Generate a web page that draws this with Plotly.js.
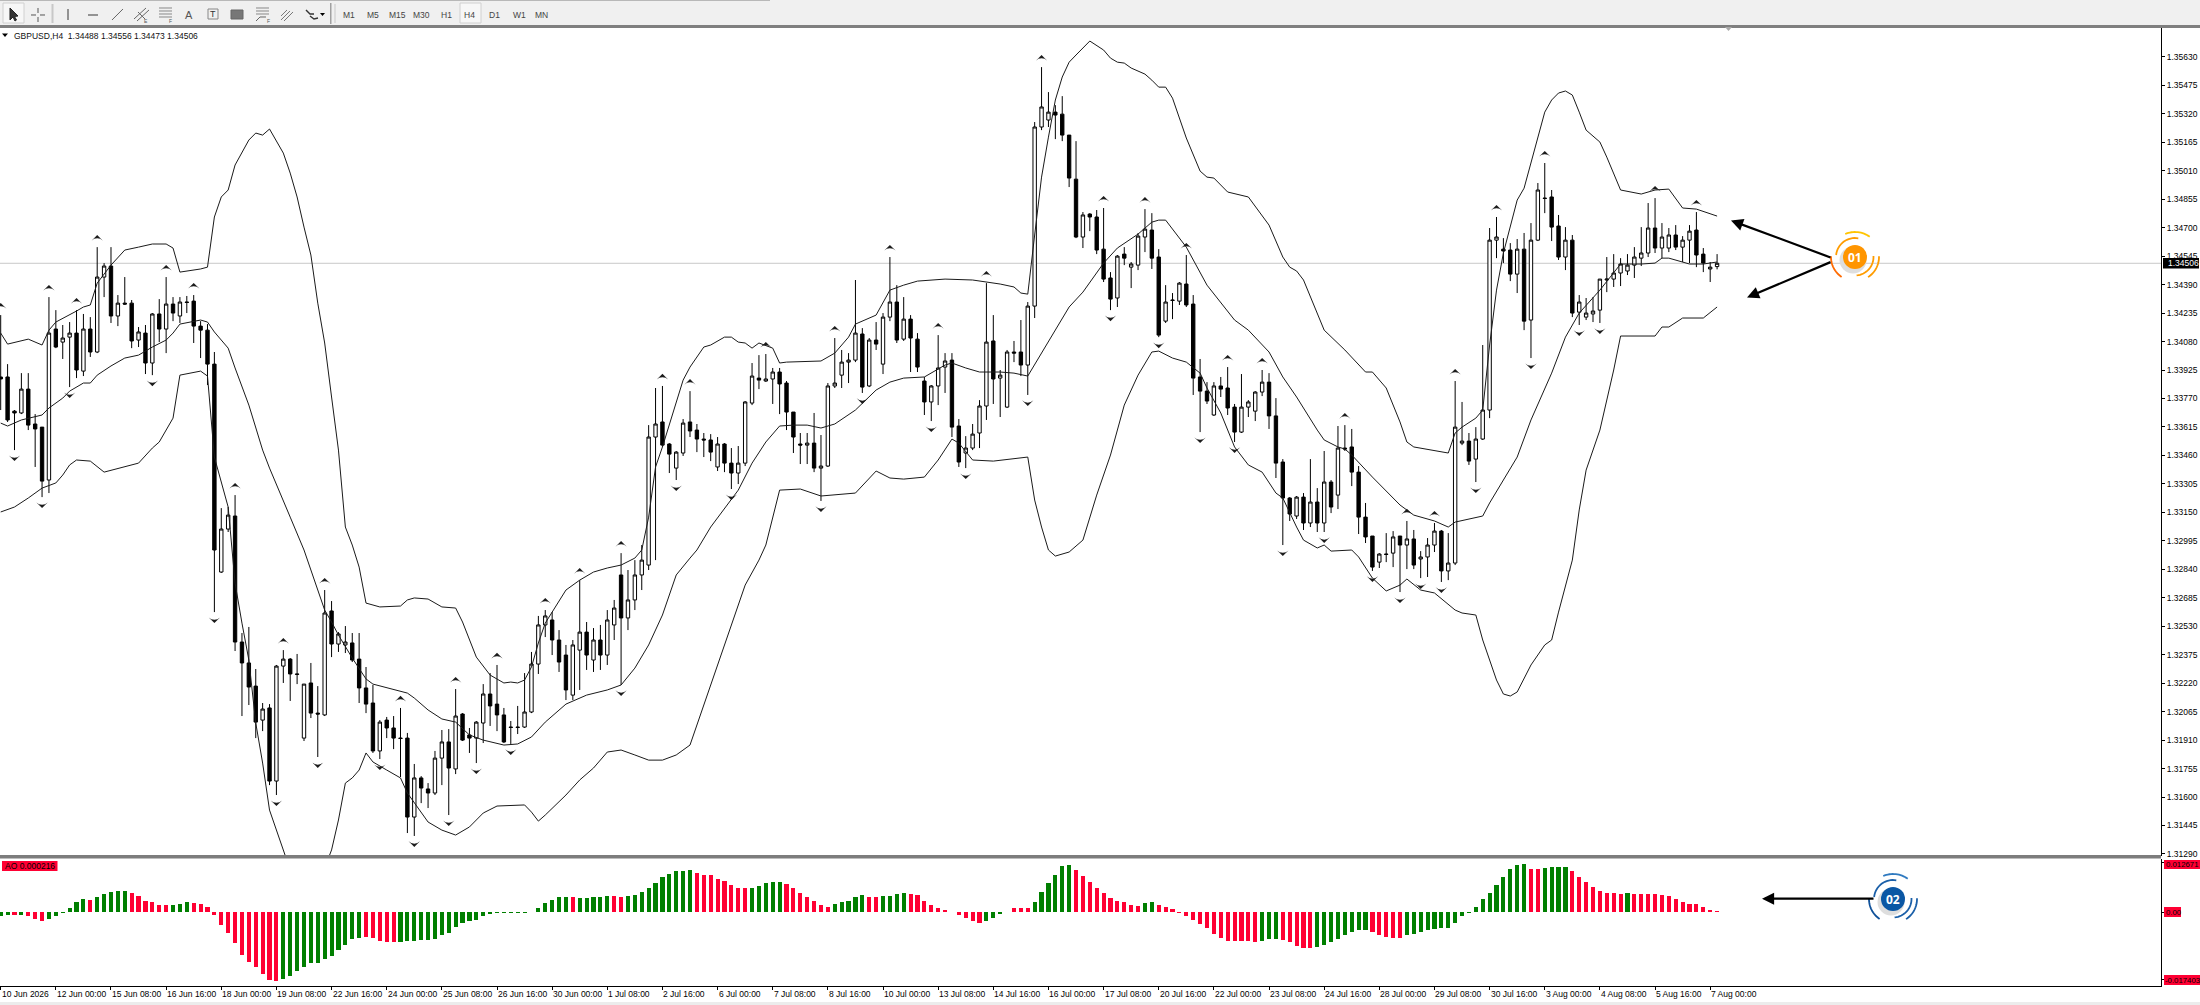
<!DOCTYPE html>
<html><head><meta charset="utf-8"><style>html,body{margin:0;padding:0;background:#fff}#c{width:2200px;height:1005px}</style>
<script src="https://cdn.plot.ly/plotly-3.0.1.min.js"></script></head><body><div id="c"></div><script>
const highs=[1.34224,1.33957,1.33707,1.33908,1.33908,1.33685,1.33614,1.34322,1.34251,1.34170,
1.34186,1.34251,1.34230,1.34213,1.34594,1.34507,1.34594,1.34333,1.34431,1.34306,
1.34159,1.34170,1.34235,1.34311,1.34431,1.34322,1.34322,1.34328,1.34333,1.34191,
1.34175,1.34023,1.33173,1.33179,1.33244,1.32493,1.32526,1.32297,1.32112,1.32106,
1.32319,1.32400,1.32357,1.32379,1.32215,1.32330,1.32204,1.32727,1.32667,1.32498,
1.32531,1.32493,1.32493,1.32308,1.32210,1.32019,1.32036,1.32041,1.32085,1.31949,
1.31780,1.31714,1.31676,1.31851,1.31965,1.31970,1.32188,1.32057,1.31976,1.32014,
1.32215,1.32275,1.32319,1.32085,1.32014,1.32096,1.32275,1.32390,1.32586,1.32618,
1.32607,1.32509,1.32428,1.32455,1.32781,1.32553,1.32520,1.32537,1.32618,1.32673,
1.32928,1.32836,1.32890,1.32972,1.33625,1.33827,1.33838,1.33527,1.33484,1.33658,
1.33810,1.33631,1.33582,1.33576,1.33560,1.33527,1.33500,1.33511,1.33756,1.33963,
1.34006,1.34012,1.33936,1.33936,1.33865,1.33696,1.33582,1.33582,1.33691,1.33571,
1.33854,1.34099,1.34034,1.34017,1.34415,1.34153,1.34099,1.34186,1.34235,1.34540,
1.34387,1.34322,1.34224,1.34126,1.33887,1.33843,1.34115,1.34017,1.34017,1.33658,
1.33565,1.33631,1.33761,1.34398,1.34224,1.33925,1.34034,1.34083,1.34197,1.34295,
1.35275,1.35574,1.35438,1.35367,1.35416,1.35204,1.35171,1.34785,1.34779,1.34796,
1.34807,1.34458,1.34551,1.34594,1.34513,1.34671,1.34801,1.34779,1.34583,1.34387,
1.34344,1.34404,1.34551,1.34333,1.33985,1.33859,1.33859,1.33887,1.33941,1.33740,
1.33903,1.33761,1.33810,1.33925,1.33908,1.33772,1.33440,1.33233,1.33239,1.33255,
1.33440,1.33282,1.33484,1.33326,1.33620,1.33625,1.33604,1.33402,1.33201,1.33021,
1.32928,1.33037,1.33048,1.33021,1.33103,1.33054,1.32939,1.33010,1.33092,1.33054,
1.33037,1.33865,1.33751,1.33582,1.33614,1.34061,1.34698,1.34758,1.34643,1.34616,
1.34638,1.34671,1.34725,1.34943,1.35052,1.34905,1.34769,1.34703,1.34660,1.34333,
1.34317,1.34322,1.34420,1.34540,1.34556,1.34534,1.34556,1.34594,1.34703,1.34834,
1.34861,1.34725,1.34698,1.34714,1.34654,1.34714,1.34785,1.34589,1.34513,1.34556];
const opens=[1.33887,1.33887,1.33701,1.33691,1.33821,1.33631,1.33614,1.33326,1.34148,1.34077,
1.34104,1.34126,1.33919,1.34148,1.34023,1.34431,1.34491,1.34219,1.34289,1.34289,
1.34088,1.34126,1.33963,1.34230,1.34148,1.34284,1.34219,1.34295,1.34300,1.34164,
1.34142,1.33957,1.32825,1.33059,1.33130,1.32444,1.32330,1.32204,1.32019,1.32085,
1.31687,1.32313,1.32351,1.32270,1.31921,1.32221,1.32057,1.32047,1.32613,1.32433,
1.32428,1.32439,1.32351,1.32194,1.32112,1.31851,1.32019,1.31976,1.31921,1.31921,
1.31491,1.31704,1.31644,1.31622,1.31812,1.31900,1.31753,1.32052,1.31938,1.31921,
1.32003,1.32161,1.32106,1.32047,1.31981,1.31981,1.31981,1.32063,1.32324,1.32537,
1.32564,1.32455,1.32373,1.32155,1.32400,1.32498,1.32346,1.32455,1.32373,1.32537,
1.32809,1.32575,1.32673,1.32809,1.32863,1.33560,1.33642,1.33522,1.33391,1.33473,
1.33642,1.33598,1.33549,1.33544,1.33397,1.33522,1.33418,1.33364,1.33418,1.33745,
1.33881,1.33865,1.33876,1.33914,1.33854,1.33696,1.33522,1.33516,1.33527,1.33391,
1.33402,1.33838,1.33897,1.33968,1.33979,1.34121,1.33838,1.34088,1.33957,1.34213,
1.34295,1.34093,1.34202,1.34093,1.33865,1.33751,1.33838,1.33941,1.33979,1.33620,
1.33473,1.33500,1.33582,1.33729,1.34083,1.33881,1.33723,1.34023,1.34023,1.33952,
1.34273,1.35248,1.35286,1.35329,1.35318,1.35204,1.34964,1.34649,1.34774,1.34758,
1.34583,1.34426,1.34317,1.34556,1.34485,1.34496,1.34649,1.34687,1.34540,1.34191,
1.34306,1.34300,1.34393,1.34284,1.33887,1.33810,1.33680,1.33838,1.33827,1.33723,
1.33587,1.33723,1.33701,1.33805,1.33859,1.33675,1.33424,1.33228,1.33130,1.33233,
1.33092,1.33206,1.33092,1.33315,1.33244,1.33500,1.33506,1.33369,1.33124,1.33021,
1.32879,1.32923,1.32928,1.33021,1.32972,1.33005,1.32896,1.32907,1.32972,1.33048,
1.32831,1.32874,1.33527,1.33538,1.33440,1.33549,1.33707,1.34632,1.34583,1.34578,
1.34447,1.34583,1.34197,1.34632,1.34861,1.34867,1.34709,1.34540,1.34632,1.34240,
1.34213,1.34230,1.34251,1.34415,1.34420,1.34453,1.34464,1.34496,1.34534,1.34562,
1.34698,1.34589,1.34589,1.34660,1.34594,1.34632,1.34687,1.34556,1.34475,1.34488];
const closes=[1.33876,1.33653,1.33691,1.33821,1.33625,1.33604,1.33320,1.34126,1.34050,1.34099,
1.34126,1.33925,1.34148,1.34023,1.34431,1.34491,1.34219,1.34289,1.34284,1.34083,
1.34132,1.33963,1.34230,1.34148,1.34284,1.34235,1.34295,1.34293,1.34164,1.34142,
1.33957,1.32945,1.33059,1.33135,1.32444,1.32330,1.32199,1.32008,1.32079,1.31687,
1.32313,1.32351,1.32270,1.32268,1.32215,1.32057,1.32052,1.32602,1.32433,1.32488,
1.32444,1.32346,1.32194,1.32106,1.31851,1.32008,1.31976,1.31921,1.31919,1.31491,
1.31704,1.31649,1.31622,1.31812,1.31900,1.31758,1.32041,1.31910,1.31921,1.32008,
1.32161,1.32096,1.32047,1.31900,1.31979,1.31979,1.32063,1.32324,1.32537,1.32586,
1.32455,1.32335,1.32183,1.32428,1.32498,1.32373,1.32455,1.32373,1.32564,1.32629,
1.32575,1.32673,1.32809,1.32890,1.33560,1.33631,1.33516,1.33467,1.33478,1.33636,
1.33593,1.33549,1.33544,1.33478,1.33522,1.33418,1.33364,1.33418,1.33751,1.33892,
1.33870,1.33876,1.33914,1.33849,1.33696,1.33560,1.33516,1.33527,1.33391,1.33402,
1.33838,1.33854,1.33968,1.33979,1.34126,1.33832,1.34088,1.34066,1.34213,1.34295,
1.34088,1.34202,1.34099,1.33941,1.33751,1.33838,1.33936,1.33974,1.33614,1.33424,
1.33500,1.33576,1.33729,1.34077,1.33876,1.33897,1.34023,1.34017,1.33952,1.34273,
1.35248,1.35357,1.35329,1.35313,1.35204,1.34970,1.34649,1.34769,1.34758,1.34578,
1.34420,1.34311,1.34545,1.34534,1.34502,1.34654,1.34692,1.34534,1.34115,1.34295,
1.34304,1.34398,1.34279,1.33881,1.33810,1.33756,1.33838,1.33821,1.33718,1.33587,
1.33723,1.33751,1.33805,1.33859,1.33675,1.33418,1.33228,1.33141,1.33233,1.33092,
1.33206,1.33092,1.33315,1.33179,1.33500,1.33495,1.33369,1.33124,1.33016,1.32852,
1.32923,1.32921,1.33016,1.32972,1.33005,1.32863,1.32907,1.32972,1.33048,1.32831,
1.32874,1.33614,1.33538,1.33429,1.33549,1.33707,1.34632,1.34649,1.34573,1.34447,
1.34583,1.34191,1.34632,1.34905,1.34859,1.34703,1.34540,1.34632,1.34235,1.34295,
1.34235,1.34246,1.34420,1.34420,1.34453,1.34502,1.34496,1.34540,1.34562,1.34698,
1.34589,1.34649,1.34660,1.34594,1.34632,1.34681,1.34551,1.34507,1.34485,1.34506];
const lows=[1.33707,1.33642,1.33489,1.33685,1.33598,1.33397,1.33233,1.33255,1.34044,1.33985,
1.33832,1.33881,1.33892,1.33996,1.34017,1.34322,1.34181,1.34164,1.34279,1.34044,
1.34050,1.33903,1.33897,1.34077,1.34017,1.34191,1.34181,1.34235,1.34072,1.33990,
1.33843,1.32607,1.32820,1.33043,1.32395,1.32041,1.32101,1.31921,1.31959,1.31665,
1.31611,1.32221,1.32123,1.32215,1.31905,1.32030,1.31818,1.32041,1.32362,1.32390,
1.32384,1.32335,1.32112,1.32057,1.31840,1.31807,1.31921,1.31861,1.31709,1.31404,
1.31388,1.31567,1.31540,1.31611,1.31665,1.31502,1.31725,1.31905,1.31840,1.31785,
1.31894,1.31987,1.31959,1.31894,1.31889,1.31943,1.31976,1.32057,1.32270,1.32471,
1.32373,1.32281,1.32128,1.32128,1.32183,1.32292,1.32281,1.32292,1.32319,1.32455,
1.32210,1.32509,1.32618,1.32727,1.32836,1.32890,1.33506,1.33364,1.33326,1.33457,
1.33560,1.33478,1.33451,1.33429,1.33375,1.33369,1.33277,1.33304,1.33402,1.33734,
1.33821,1.33860,1.33740,1.33685,1.33598,1.33473,1.33413,1.33413,1.33369,1.33212,
1.33397,1.33827,1.33827,1.33854,1.33968,1.33800,1.33832,1.34034,1.33903,1.34191,
1.34072,1.34083,1.33914,1.33914,1.33680,1.33647,1.33734,1.33800,1.33560,1.33397,
1.33391,1.33489,1.33500,1.33653,1.33740,1.33669,1.33718,1.33968,1.33892,1.33789,
1.34208,1.35231,1.35248,1.35182,1.35171,1.34921,1.34643,1.34589,1.34681,1.34556,
1.34404,1.34251,1.34268,1.34496,1.34371,1.34469,1.34567,1.34475,1.34104,1.34181,
1.34202,1.34279,1.34268,1.33789,1.33587,1.33740,1.33675,1.33778,1.33680,1.33533,
1.33582,1.33669,1.33647,1.33783,1.33604,1.33337,1.32972,1.33103,1.33114,1.33054,
1.33070,1.33043,1.33043,1.33146,1.33168,1.33484,1.33293,1.33032,1.32983,1.32831,
1.32847,1.32879,1.32852,1.32716,1.32841,1.32841,1.32792,1.32798,1.32934,1.32771,
1.32781,1.32863,1.33516,1.33408,1.33315,1.33544,1.33663,1.34534,1.34507,1.34409,
1.34344,1.34142,1.33990,1.34627,1.34779,1.34627,1.34524,1.34469,1.34213,1.34170,
1.34197,1.34186,1.34181,1.34349,1.34377,1.34382,1.34442,1.34426,1.34491,1.34540,
1.34562,1.34534,1.34567,1.34578,1.34513,1.34507,1.34485,1.34458,1.34404,1.34473];

const upperBars=[0,1,4,6,7,8,11,12,13,14,16,18,20,22,24,25,26,29,30,31,32,33,34,35,36,37,38,39,41,42,43,44,45,46,47,48,49,50,51,52,53,55,58,59,60,62,64,66,67,69,71,73,74,75,76,77,78,79,80,81,82,84,86,88,90,92,93,94,95,96,98,99,100,102,103,105,106,107,108,109,110,112,113,114,119,121,123,124,127,128,129,131,133,137,141,145,147,148,149,150,151,152,153,154,155,156,158,160,161,162,163,164,166,167,168,169,170,172,174,175,176,178,181,184,186,187,188,189,190,192,195,198,199,201,203,204,205,210,211,212,214,215,216,217,218,220,221,222,223,224,225,226,227,228,229,230,232,233,235,238,240,242,244,246,249];
const upperVals=[1.34126,1.34066,1.34093,1.34061,1.34142,1.34186,1.34246,1.34268,1.34279,1.34398,1.34496,1.34578,1.34594,1.34611,1.34611,1.34589,1.34458,1.34475,1.34485,1.34758,1.34867,1.34905,1.35041,1.35106,1.35177,1.35215,1.35204,1.35237,1.35106,1.34997,1.34867,1.34703,1.34551,1.34289,1.34072,1.33778,1.33489,1.33070,1.32972,1.32852,1.32656,1.32635,1.32640,1.32673,1.32684,1.32678,1.32635,1.32629,1.32553,1.32362,1.32264,1.32221,1.32226,1.32221,1.32237,1.32308,1.32439,1.32547,1.32607,1.32673,1.32727,1.32781,1.32825,1.32847,1.32863,1.32901,1.32945,1.33124,1.33397,1.33506,1.33745,1.33870,1.33941,1.34050,1.34061,1.34104,1.34104,1.34077,1.34072,1.34044,1.34072,1.34044,1.33963,1.33968,1.33974,1.34017,1.34104,1.34175,1.34224,1.34289,1.34360,1.34387,1.34409,1.34420,1.34415,1.34393,1.34377,1.34344,1.34338,1.34660,1.34975,1.35193,1.35395,1.35520,1.35601,1.35640,1.35716,1.35667,1.35623,1.35601,1.35596,1.35569,1.35536,1.35503,1.35465,1.35465,1.35405,1.35188,1.35008,1.34975,1.34970,1.34894,1.34867,1.34714,1.34540,1.34485,1.34464,1.34415,1.34322,1.34142,1.34034,1.33914,1.33914,1.33827,1.33642,1.33533,1.33506,1.33473,1.33582,1.33614,1.33663,1.33707,1.34061,1.34360,1.34562,1.34850,1.34915,1.35052,1.35204,1.35329,1.35395,1.35433,1.35444,1.35422,1.35329,1.35231,1.35166,1.35084,1.34905,1.34883,1.34905,1.34910,1.34807,1.34801,1.34763];
const middleBars=[0,1,3,5,6,7,9,10,12,13,14,16,18,20,22,24,25,26,28,29,30,31,33,34,36,38,39,40,42,44,47,48,49,51,53,54,56,59,60,62,64,66,68,70,73,75,77,79,82,85,88,90,92,94,96,98,100,101,103,106,107,109,111,113,115,117,119,121,124,127,129,131,134,137,138,140,142,145,147,149,153,155,157,160,162,165,167,168,169,172,175,177,179,181,184,186,188,191,192,194,195,196,199,203,205,208,210,211,215,216,220,222,225,227,229,232,234,235,238,240,241,242,245,247,249];
const middleVals=[1.33636,1.33620,1.33653,1.33669,1.33680,1.33718,1.33772,1.33810,1.33854,1.33854,1.33897,1.33947,1.33990,1.34006,1.34050,1.34088,1.34126,1.34175,1.34191,1.34197,1.34186,1.34132,1.34044,1.33936,1.33734,1.33489,1.33391,1.33299,1.33124,1.32945,1.32618,1.32553,1.32482,1.32357,1.32243,1.32215,1.32194,1.32166,1.32139,1.32074,1.32025,1.32008,1.31938,1.31910,1.31883,1.31889,1.31927,1.32008,1.32106,1.32155,1.32183,1.32210,1.32302,1.32428,1.32591,1.32809,1.32901,1.32945,1.33070,1.33217,1.33271,1.33418,1.33533,1.33620,1.33625,1.33625,1.33609,1.33631,1.33707,1.33816,1.33859,1.33881,1.33887,1.33952,1.33963,1.33936,1.33914,1.33914,1.33908,1.33892,1.34142,1.34268,1.34349,1.34507,1.34589,1.34665,1.34730,1.34741,1.34741,1.34594,1.34387,1.34295,1.34197,1.34142,1.34023,1.33887,1.33778,1.33598,1.33544,1.33506,1.33495,1.33462,1.33342,1.33190,1.33135,1.33103,1.33070,1.33097,1.33130,1.33201,1.33451,1.33653,1.33908,1.34104,1.34235,1.34360,1.34453,1.34502,1.34502,1.34507,1.34534,1.34534,1.34502,1.34502,1.34513];
const lowerBars=[0,2,4,6,8,9,10,11,13,15,20,22,23,25,26,29,30,31,33,34,35,36,37,38,39,40,41,42,44,46,47,48,49,50,51,52,53,54,56,58,59,60,62,64,66,68,70,72,76,77,78,79,80,82,84,86,88,90,92,94,96,98,100,102,104,106,108,110,111,113,116,119,124,127,129,131,134,136,138,139,141,144,149,150,151,152,153,155,157,159,161,163,165,167,168,170,172,174,175,177,179,181,183,185,186,188,189,191,192,193,196,197,199,201,203,204,206,208,211,212,214,215,216,217,218,219,220,222,224,225,226,227,228,229,230,232,234,235,240,241,242,244,247,249];
const lowerVals=[1.33152,1.33179,1.33228,1.33282,1.33310,1.33353,1.33408,1.33435,1.33429,1.33369,1.33418,1.33500,1.33533,1.33663,1.33897,1.33919,1.33892,1.33451,1.33179,1.32765,1.32547,1.32346,1.32003,1.31785,1.31529,1.31420,1.31312,1.31203,1.31121,1.31148,1.31214,1.31312,1.31475,1.31676,1.31704,1.31747,1.31840,1.31791,1.31747,1.31704,1.31622,1.31567,1.31464,1.31420,1.31393,1.31437,1.31513,1.31551,1.31557,1.31518,1.31469,1.31502,1.31540,1.31611,1.31693,1.31758,1.31845,1.31856,1.31829,1.31801,1.31801,1.31829,1.31883,1.32101,1.32319,1.32537,1.32754,1.32890,1.32972,1.33271,1.33277,1.33239,1.33255,1.33375,1.33337,1.33331,1.33342,1.33435,1.33549,1.33527,1.33435,1.33429,1.33451,1.33217,1.33070,1.32945,1.32912,1.32934,1.32999,1.33244,1.33462,1.33734,1.33897,1.34023,1.34028,1.33990,1.33968,1.33908,1.33827,1.33691,1.33506,1.33408,1.33369,1.33255,1.33228,1.33070,1.32999,1.32956,1.32972,1.32939,1.32945,1.32907,1.32792,1.32722,1.32754,1.32787,1.32727,1.32711,1.32618,1.32602,1.32591,1.32455,1.32346,1.32237,1.32161,1.32150,1.32172,1.32319,1.32428,1.32455,1.32607,1.32754,1.32890,1.33163,1.33380,1.33598,1.33925,1.34110,1.34110,1.34159,1.34159,1.34208,1.34208,1.34268];

const fractalUpBars=[0,7,11,14,24,28,34,41,47,58,66,72,79,84,90,96,100,111,121,129,136,143,151,160,166,172,178,183,195,204,208,211,217,224,240,246];
const fractalDownBars=[2,6,10,22,31,40,46,55,60,65,69,74,90,98,106,119,125,135,140,149,161,168,174,179,186,192,199,203,206,209,214,222,229,232];

const aoValues=[-0.00103,-0.00086,-0.00086,-0.00086,-0.00112,-0.00172,-0.00241,-0.00172,-0.00112,-0.00017,
0.00112,0.00267,0.00327,0.00310,0.00378,0.00473,0.00516,0.00533,0.00533,0.00490,
0.00404,0.00292,0.00249,0.00181,0.00181,0.00181,0.00206,0.00249,0.00224,0.00215,
0.00138,-0.00077,-0.00335,-0.00533,-0.00791,-0.01109,-0.01290,-0.01419,-0.01608,-0.01763,
-0.01780,-0.01720,-0.01643,-0.01522,-0.01410,-0.01307,-0.01307,-0.01221,-0.01127,-0.00980,
-0.00860,-0.00705,-0.00662,-0.00654,-0.00679,-0.00740,-0.00765,-0.00765,-0.00765,-0.00757,
-0.00740,-0.00731,-0.00722,-0.00688,-0.00602,-0.00533,-0.00396,-0.00275,-0.00224,-0.00198,
-0.00103,-0.00060,-0.00026,-0.00017,-0.00017,-0.00017,-0.00017,-0.00009,0.00112,0.00224,
0.00310,0.00378,0.00396,0.00378,0.00353,0.00361,0.00378,0.00387,0.00404,0.00413,
0.00387,0.00404,0.00447,0.00516,0.00619,0.00757,0.00894,0.00972,0.01049,0.01066,
0.01075,0.01006,0.00963,0.00946,0.00860,0.00800,0.00688,0.00619,0.00611,0.00619,
0.00671,0.00740,0.00783,0.00783,0.00722,0.00628,0.00499,0.00387,0.00275,0.00181,
0.00138,0.00206,0.00249,0.00275,0.00378,0.00430,0.00387,0.00387,0.00404,0.00404,
0.00456,0.00482,0.00456,0.00430,0.00292,0.00181,0.00095,0.00052,0.00009,-0.00077,
-0.00155,-0.00232,-0.00275,-0.00241,-0.00146,-0.00052,0.00009,0.00095,0.00095,0.00095,
0.00249,0.00516,0.00757,0.00955,0.01187,0.01213,0.01084,0.00920,0.00765,0.00611,
0.00499,0.00361,0.00292,0.00258,0.00189,0.00155,0.00224,0.00249,0.00181,0.00138,
0.00069,-0.00017,-0.00103,-0.00206,-0.00301,-0.00421,-0.00559,-0.00662,-0.00740,-0.00748,
-0.00748,-0.00748,-0.00765,-0.00748,-0.00705,-0.00688,-0.00731,-0.00774,-0.00869,-0.00920,
-0.00929,-0.00903,-0.00843,-0.00774,-0.00688,-0.00602,-0.00507,-0.00464,-0.00464,-0.00516,
-0.00602,-0.00645,-0.00662,-0.00662,-0.00593,-0.00559,-0.00525,-0.00473,-0.00430,-0.00421,
-0.00404,-0.00275,-0.00103,-0.00017,0.00138,0.00335,0.00490,0.00697,0.00912,0.01109,
0.01204,0.01230,0.01109,0.01109,0.01135,0.01152,0.01152,0.01152,0.01058,0.00894,
0.00765,0.00654,0.00542,0.00490,0.00490,0.00473,0.00490,0.00473,0.00456,0.00456,
0.00456,0.00430,0.00404,0.00335,0.00267,0.00206,0.00198,0.00120,0.00052,0.000216];
const aoFallingRuns=[[2,2],[4,6],[13,13],[19,24],[28,40],[53,57],[83,83],[89,90],[101,108],[114,120],[126,127],[132,142],[147,149],[156,165],[168,182],[186,190],[199,203],[222,223],[228,235],[237,249]];

const timeLabels=["10 Jun 2026","12 Jun 00:00","15 Jun 08:00","16 Jun 16:00","18 Jun 00:00","19 Jun 08:00","22 Jun 16:00","24 Jun 00:00","25 Jun 08:00","26 Jun 16:00","30 Jun 00:00","1 Jul 08:00","2 Jul 16:00","6 Jul 00:00","7 Jul 08:00","8 Jul 16:00","10 Jul 00:00","13 Jul 08:00","14 Jul 16:00","16 Jul 00:00","17 Jul 08:00","20 Jul 16:00","22 Jul 00:00","23 Jul 08:00","24 Jul 16:00","28 Jul 00:00","29 Jul 08:00","30 Jul 16:00","3 Aug 00:00","4 Aug 08:00","5 Aug 16:00","7 Aug 00:00"];
const priceTicks=[1.31290,1.31445,1.31600,1.31755,1.31910,1.32065,1.32220,1.32375,1.32530,1.32685,1.32840,1.32995,1.33150,1.33305,1.33460,1.33615,1.33770,1.33925,1.34080,1.34235,1.34390,1.34545,1.34700,1.34855,1.35010,1.35165,1.35320,1.35475,1.35630];
const lastPrice=1.34506;
const timeframes=["M1","M5","M15","M30","H1","H4","D1","W1","MN"];

const W=2200,H=1005;
const X=p=>p/W, Y=p=>1-p/H;
const bars=opens.map((_,i)=>i);
const FONT='"Liberation Sans",Arial,sans-serif';
const GAP_UP=0.00066,GAP_DOWN=0.00060;

const traces=[
 {type:'candlestick',x:bars,open:opens,high:highs,low:lows,close:closes,xaxis:'x',yaxis:'y',whiskerwidth:0,
  increasing:{line:{color:'#000',width:1},fillcolor:'#fff'},decreasing:{line:{color:'#000',width:1},fillcolor:'#000'},hoverinfo:'skip'},
 {type:'scatter',mode:'lines',x:upperBars,y:upperVals,line:{color:'#1a1a1a',width:1},xaxis:'x',yaxis:'y',hoverinfo:'skip'},
 {type:'scatter',mode:'lines',x:middleBars,y:middleVals,line:{color:'#1a1a1a',width:1},xaxis:'x',yaxis:'y',hoverinfo:'skip'},
 {type:'scatter',mode:'lines',x:lowerBars,y:lowerVals,line:{color:'#1a1a1a',width:1},xaxis:'x',yaxis:'y',hoverinfo:'skip'},
 {type:'scatter',mode:'markers',x:fractalUpBars,y:fractalUpBars.map(i=>highs[i]+GAP_UP),xaxis:'x',yaxis:'y',hoverinfo:'skip',
  marker:{symbol:'arrow-wide',size:8,color:'#1c1c1c',line:{width:0}}},
 {type:'scatter',mode:'markers',x:fractalDownBars,y:fractalDownBars.map(i=>lows[i]-GAP_DOWN),xaxis:'x',yaxis:'y',hoverinfo:'skip',
  marker:{symbol:'arrow-wide',angle:180,size:8,color:'#1c1c1c',line:{width:0}}},
 {type:'bar',x:bars,y:aoValues,width:0.6,xaxis:'x',yaxis:'y2',hoverinfo:'skip',
  marker:{line:{width:0},color:bars.map(i=>aoFallingRuns.some(r=>i>=r[0]&&i<=r[1])?'#ff0033':'#007f00')}}
];

const shapes=[],annotations=[];
function rect(x0,y0,x1,y1,fill,line){shapes.push({type:'rect',xref:'paper',yref:'paper',x0:X(x0),x1:X(x1),y0:Y(y0),y1:Y(y1),fillcolor:fill,line:line?{color:line,width:1}:{width:0},layer:'above'});}
function path(pts,color,width,fill,close){const d=pts.map((p,i)=>(i?'L':'M')+X(p[0]).toFixed(6)+','+Y(p[1]).toFixed(6)).join(' ')+(close?' Z':'');
 shapes.push({type:'path',xref:'paper',yref:'paper',path:d,line:width?{color,width}:{width:0},fillcolor:fill||'rgba(0,0,0,0)',layer:'above'});}
function arc(cx,cy,r,a0,a1,color,width){const pts=[];for(let k=0;k<=16;k++){const a=(a0+(a1-a0)*k/16)*Math.PI/180;pts.push([cx+r*Math.cos(a),cy-r*Math.sin(a)]);}path(pts,color,width);}
function circle(cx,cy,r,fill){shapes.push({type:'circle',xref:'paper',yref:'paper',x0:X(cx-r),x1:X(cx+r),y0:Y(cy+r),y1:Y(cy-r),fillcolor:fill,line:{width:0},layer:'above'});}
function label(text,x,y,opt){annotations.push(Object.assign({text,xref:'paper',yref:'paper',x:X(x),y:Y(y),showarrow:false,xanchor:'left',yanchor:'middle',font:{family:FONT,size:8.5,color:'#000'},borderpad:0},opt||{}));}

// toolbar
rect(0,0,W,25,'#f0f0f0');
rect(0,0,770,1,'#b8b8b8');
rect(0,25,W,28,'#7f7f7f');
rect(3,3,24,23,'#f7f7f7','#d0d0d0');
rect(460,3,481,23,'#f7f7f7','#d0d0d0');
path([[10,8],[10,20],[13,17],[15,21],[16.5,20],[14.5,16.5],[18,16]],'#222',1,'#333',true);
path([[31,15],[36,15]],'#555',1);path([[40,15],[45,15]],'#555',1);path([[38,8],[38,13]],'#555',1);path([[38,17],[38,22]],'#555',1);
rect(51.5,4,53.5,23,'#c8c8c8');
path([[68,9],[68,20]],'#555',1.2);
path([[88,15],[98,15]],'#555',1.2);
path([[112,20],[123,9]],'#666',1);
path([[134,19],[146,8]],'#666',1);path([[137,21],[149,10]],'#666',1);path([[138,12],[145,19]],'#666',1);
[8,11,14,17].forEach(v=>path([[159,v],[172,v]],'#888',1));
rect(231,10,243,19,'#777','#666');
rect(208,9,218,19,'#f0f0f0','#888');
path([[256,8],[269,8]],'#888',1);path([[256,11],[269,11]],'#888',1);path([[256,14],[269,14]],'#888',1);path([[256,21],[260,17],[266,17]],'#666',1);
path([[281,20],[290,11]],'#777',1);path([[284,21],[293,12]],'#777',1);path([[281,16],[287,10]],'#777',1);
path([[306,10],[310,14],[314,14]],'#333',1.4);path([[310,16],[314,19],[318,18]],'#333',1.4);
path([[320,13],[325,13],[322.5,16]],'#000',0,'#000',true);
rect(330,3,331.5,24,'#a0a0a0');
rect(334,4,336,23,'#dcdcdc');
const tfX=[349,373,397,422,446,469,494,519,541];
timeframes.forEach((t,i)=>label(t,tfX[i],15,{xanchor:'center',font:{family:FONT,size:8.5,color:'#444'}}));
label('A',189,15,{xanchor:'center',font:{family:FONT,size:11,color:'#555'}});
label('T',213,14.5,{xanchor:'center',font:{family:FONT,size:9,color:'#333'}});
label('E',146,21,{xanchor:'center',font:{family:FONT,size:5,color:'#555'}});
label('F',170,21,{xanchor:'center',font:{family:FONT,size:5,color:'#555'}});
label('F',268,21,{xanchor:'center',font:{family:FONT,size:5,color:'#555'}});

// chart heading
path([[2,33.5],[8,33.5],[5,37]],'#000',0,'#000',true);
label('GBPUSD,H4  1.34488 1.34556 1.34473 1.34506',13,35.5,{font:{family:FONT,size:8.5,color:'#111'}});
path([[1725,27],[1732,27],[1728.5,31]],'#aaa',0,'#aaa',true);

// pane separators and current price
rect(0,855,2161,858.5,'#7d7d7d');
shapes.push({type:'line',xref:'x domain',yref:'y',x0:0,x1:1,y0:lastPrice,y1:lastPrice,line:{color:'#c8c8c8',width:1},layer:'below'});
rect(2163,258,2199,268.5,'#000');
label(lastPrice.toFixed(5),2167,263.5,{font:{family:FONT,size:8.5,color:'#fff'}});

// AO labels
const AOF={family:FONT,size:7.8,color:'#000'};
rect(2,861,57.5,871,'#ff0033');
label('AO 0.000216',4,866,{});
rect(2164,860,2200,869,'#ff0033');label('0.012671',2165,864.5,{font:AOF});
rect(2164,907,2181,917,'#ff0033');label('0.00',2165,912,{font:AOF});
rect(2164,975,2200,985,'#ff0033');label('-0.017403',2164,980,{font:AOF});

// time axis labels
timeLabels.forEach((t,i)=>annotations.push({text:t,xref:'x',yref:'paper',x:i*8,y:Y(994),xanchor:'left',yanchor:'middle',xshift:-1,showarrow:false,font:{family:FONT,size:8.5,color:'#000'}}));
rect(0,1002,W,1005,'#ececec');

// arrows
function arrow(tipX,tipY,tailX,tailY){annotations.push({text:'',xref:'paper',yref:'paper',x:X(tipX),y:Y(tipY),axref:'pixel',ayref:'pixel',ax:tailX-tipX,ay:tailY-tipY,showarrow:true,arrowhead:2,arrowsize:1.1,arrowwidth:2.2,arrowcolor:'#000'});}
arrow(1731,220.5,1832,258);
arrow(1747,297.5,1832,261.5);
arrow(1762,898.7,1875,898.7);

// badges
function badge(cx,cy,text,c){
 circle(cx-2,cy+3,13.5,'#dedede');
 arc(cx,cy,25,54,113,c.a,1.8);
 arc(cx,cy,19,80,174,c.b,1.8);
 arc(cx,cy,24,-57,2,c.b,1.8);
 arc(cx,cy,18.5,-85,3,c.b,1.8);
 arc(cx,cy,24,178,236,c.c,1.8);
 circle(cx,cy,12,c.f);
 label(text,cx,cy,{xanchor:'center',font:{family:'"Open Sans",'+FONT,size:12,color:'#fff',weight:700}});
}
badge(1855,257,'01',{a:'#ffc400',b:'#ff9c00',c:'#ff6a00',f:'#ff9500'});
badge(1893,899,'02',{a:'#2f7ac0',b:'#1a5fa8',c:'#0d4f98',f:'#0b57a4'});

const layout={width:W,height:H,margin:{l:0,r:0,t:0,b:0},paper_bgcolor:'#fff',plot_bgcolor:'#fff',showlegend:false,bargap:0,
 font:{family:FONT,size:8.5,color:'#000'},shapes,annotations,
 xaxis:{domain:[0,2161/W],range:[-0.1016,313.4],anchor:'y2',showgrid:false,zeroline:false,rangeslider:{visible:false},
  tickmode:'array',tickvals:timeLabels.map((_,i)=>i*8),ticktext:timeLabels.map(()=>''),ticks:'outside',ticklen:3,tickcolor:'#000',showline:true,linecolor:'#000',linewidth:1},
 yaxis:{domain:[Y(856),Y(28)],range:[1.31279,1.35787],side:'right',anchor:'x',showgrid:false,zeroline:false,
  tickmode:'array',tickvals:priceTicks,ticktext:priceTicks.map(v=>v.toFixed(5)),ticks:'outside',ticklen:3,tickcolor:'#000',showline:true,linecolor:'#000',linewidth:1,tickfont:{family:FONT,size:8.5,color:'#000'},automargin:false},
 yaxis2:{domain:[Y(986),Y(859)],range:[-0.019092,0.013674],side:'right',anchor:'x',showgrid:false,zeroline:false,
  tickmode:'array',tickvals:[-0.017403,0,0.012671],ticktext:['','',''],ticks:'outside',ticklen:3,tickcolor:'#000',showline:true,linecolor:'#000',linewidth:1,automargin:false}
};
Plotly.newPlot('c',traces,layout,{staticPlot:true,displayModeBar:false});
</script></body></html>
